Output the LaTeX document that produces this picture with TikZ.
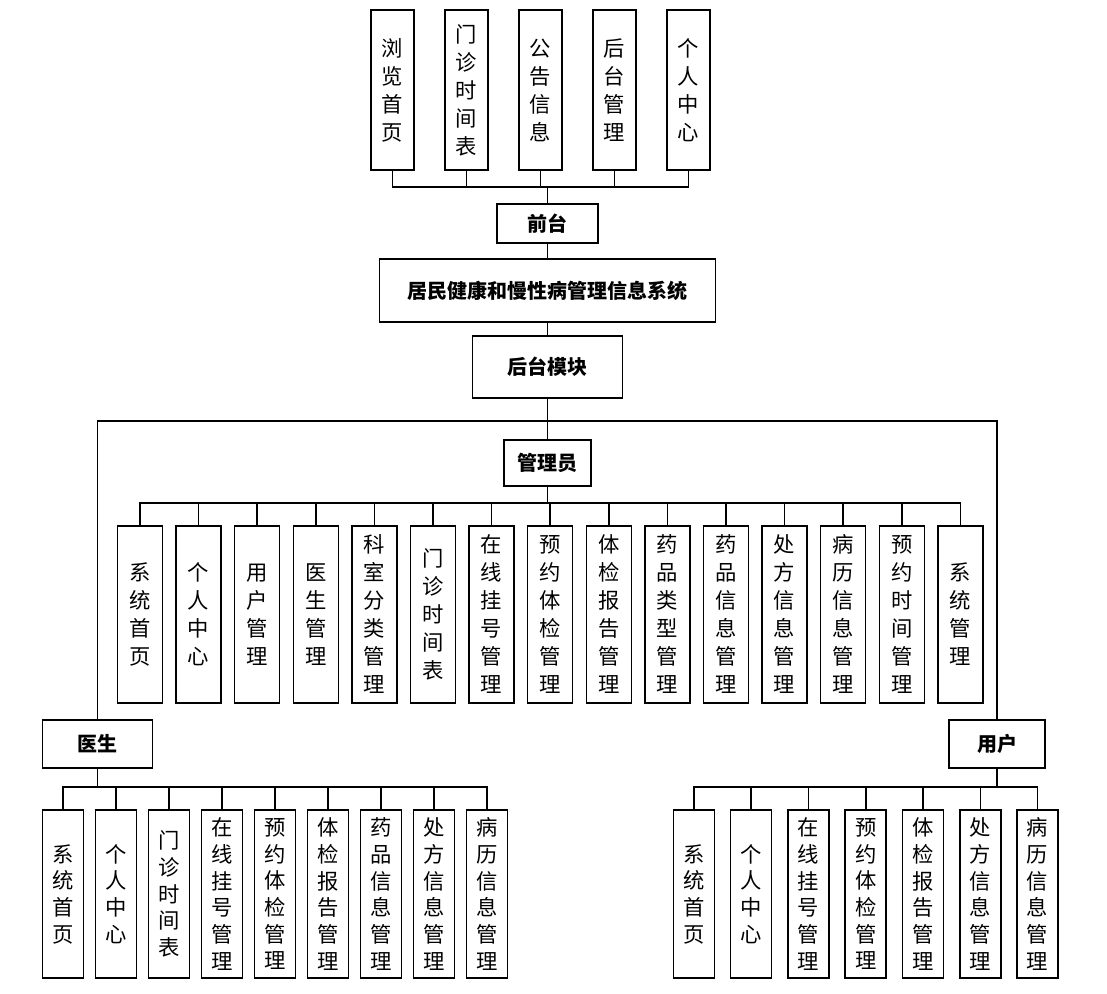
\documentclass[tikz,border=0pt]{standalone}
\usepackage{fontspec}
\setmainfont{Noto Sans CJK SC}
\begin{document}
\begin{tikzpicture}[x=0.75pt, y=-0.75pt,
  mod/.style={draw, line width=1.1pt, inner sep=0pt, align=center, font=\fontsize{16}{21}\selectfont},
  topm/.style={mod, minimum width=32.25pt, minimum height=120pt},
  admm/.style={mod, minimum width=33.75pt, minimum height=132.75pt},
  lowm/.style={mod, minimum width=30.75pt, minimum height=126pt, font=\fontsize{16}{20}\selectfont},
  head/.style={draw, line width=1.1pt, inner sep=0pt, font=\fontsize{15}{17}\selectfont\bfseries},
  link/.style={line width=1.2pt}]
	\useasboundingbox (0,0) rectangle (1107,993);

	% front end
	\node[topm] (t1) at (392.5,90) {浏\\览\\首\\页};
	\node[topm] (t2) at (466.5,90) {门\\诊\\时\\间\\表};
	\node[topm] (t3) at (540.5,90) {公\\告\\信\\息};
	\node[topm] (t4) at (614.5,90) {后\\台\\管\\理};
	\node[topm] (t5) at (688.5,90) {个\\人\\中\\心};
	\node[head, minimum width=75.75pt, minimum height=29.25pt] (front) at (547.5,223.5) {前台};
	\node[head, minimum width=252pt, minimum height=47.25pt] (sys) at (547.5,290.5) {居民健康和慢性病管理信息系统};
	\node[head, minimum width=112.5pt, minimum height=46.5pt] (back) at (547.5,367) {后台模块};
	\coordinate (fbus) at (547.5,187);
	\draw[link] (t1.south) |- (fbus);
	\draw[link] (t2.south) |- (fbus);
	\draw[link] (t3.south) |- (fbus);
	\draw[link] (t4.south) |- (fbus);
	\draw[link] (t5.south) |- (fbus);
	\draw[link] (fbus) -- (front.north);
	\draw[link] (front.south) -- (sys.north);
	\draw[link] (sys.south) -- (back.north);

	% back end roles
	\node[head, minimum width=65.25pt, minimum height=34.5pt] (admin) at (547.5,463) {管理员};
	\node[head, minimum width=82.5pt, minimum height=36pt] (doctor) at (97.5,744) {医生};
	\node[head, minimum width=72pt, minimum height=36pt] (user) at (997,744) {用户};
	\coordinate (split) at (547.5,421);
	\draw[link] (back.south) -- (admin.north);
	\draw[link] (split) -| (doctor.north);
	\draw[link] (split) -| (user.north);

	% admin
	\node[admm] (a1) at (140,614.5) {系\\统\\首\\页};
	\node[admm] (a2) at (198.6,614.5) {个\\人\\中\\心};
	\node[admm] (a3) at (257.2,614.5) {用\\户\\管\\理};
	\node[admm] (a4) at (315.8,614.5) {医\\生\\管\\理};
	\node[admm] (a5) at (374.4,614.5) {科\\室\\分\\类\\管\\理};
	\node[admm] (a6) at (433,614.5) {门\\诊\\时\\间\\表};
	\node[admm] (a7) at (491.6,614.5) {在\\线\\挂\\号\\管\\理};
	\node[admm] (a8) at (550.2,614.5) {预\\约\\体\\检\\管\\理};
	\node[admm] (a9) at (608.8,614.5) {体\\检\\报\\告\\管\\理};
	\node[admm] (a10) at (667.4,614.5) {药\\品\\类\\型\\管\\理};
	\node[admm] (a11) at (726,614.5) {药\\品\\信\\息\\管\\理};
	\node[admm] (a12) at (784.6,614.5) {处\\方\\信\\息\\管\\理};
	\node[admm] (a13) at (843.2,614.5) {病\\历\\信\\息\\管\\理};
	\node[admm] (a14) at (901.8,614.5) {预\\约\\时\\间\\管\\理};
	\node[admm] (a15) at (960.4,614.5) {系\\统\\管\\理};
	\coordinate (abus) at (547.5,502.7);
	\draw[link] (admin.south) -- (abus);
	\foreach \i in {1,...,15} \draw[link] (a\i.north) |- (abus);

	% doctor
	\node[lowm] (d1) at (63,894) {系\\统\\首\\页};
	\node[lowm] (d2) at (116,894) {个\\人\\中\\心};
	\node[lowm] (d3) at (169,894) {门\\诊\\时\\间\\表};
	\node[lowm] (d4) at (222,894) {在\\线\\挂\\号\\管\\理};
	\node[lowm] (d5) at (275,894) {预\\约\\体\\检\\管\\理};
	\node[lowm] (d6) at (328,894) {体\\检\\报\\告\\管\\理};
	\node[lowm] (d7) at (381,894) {药\\品\\信\\息\\管\\理};
	\node[lowm] (d8) at (434,894) {处\\方\\信\\息\\管\\理};
	\node[lowm] (d9) at (487,894) {病\\历\\信\\息\\管\\理};
	\coordinate (dbus) at (97.5,786.7);
	\draw[link] (doctor.south) -- (dbus);
	\foreach \i in {1,...,9} \draw[link] (d\i.north) |- (dbus);

	% user
	\node[lowm] (u1) at (693.8,894) {系\\统\\首\\页};
	\node[lowm] (u2) at (751.1,894) {个\\人\\中\\心};
	\node[lowm] (u3) at (808.4,894) {在\\线\\挂\\号\\管\\理};
	\node[lowm] (u4) at (865.7,894) {预\\约\\体\\检\\管\\理};
	\node[lowm] (u5) at (923,894) {体\\检\\报\\告\\管\\理};
	\node[lowm] (u6) at (980.3,894) {处\\方\\信\\息\\管\\理};
	\node[lowm] (u7) at (1037.6,894) {病\\历\\信\\息\\管\\理};
	\coordinate (ubus) at (997,786.7);
	\draw[link] (user.south) -- (ubus);
	\foreach \i in {1,...,7} \draw[link] (u\i.north) |- (ubus);
\end{tikzpicture}
\end{document}
